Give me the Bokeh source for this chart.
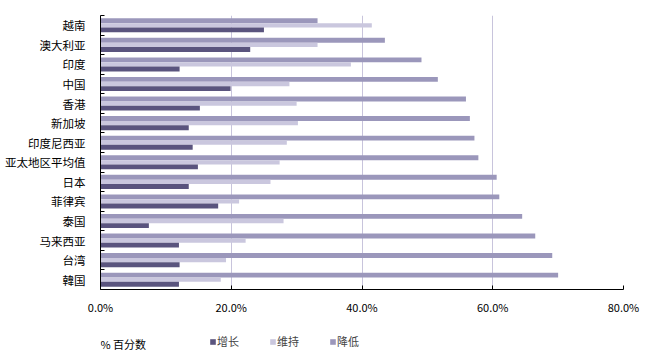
from bokeh.plotting import figure
from bokeh.layouts import column
from bokeh.models import (Range1d, FixedTicker, Legend, LegendItem, Label,
                          ColumnDataSource, CustomJSTickFormatter)
from bokeh.embed import file_html
from bokeh.resources import INLINE
import numpy as np

categories = ["越南", "澳大利亚", "印度", "中国", "香港", "新加坡", "印度尼西亚",
              "亚太地区平均值", "日本", "菲律宾", "泰国", "马来西亚", "台湾", "韓国"]
growth = [25.0, 22.9, 12.1, 19.9, 15.2, 13.5, 14.1, 14.9, 13.5, 18.0, 7.4, 12.0, 12.1, 12.0]
maintain = [41.5, 33.2, 38.3, 28.9, 30.0, 30.2, 28.5, 27.4, 26.0, 21.2, 28.0, 22.2, 19.2, 18.4]
decline = [33.2, 43.5, 49.1, 51.6, 55.9, 56.5, 57.2, 57.8, 60.6, 61.0, 64.5, 66.5, 69.1, 70.0]
series_names = ["增长", "维持", "降低"]
x_title = "% 百分数"
x_ticks = [0, 20, 40, 60, 80]

FONT = "Noto Sans CJK SC"
C_GROW = "#5a547e"
C_MAIN = "#cac7de"
C_DECL = "#9b97bb"

n = len(categories)
centers = np.array([n - 0.5 - i for i in range(n)])
bh = 0.235

xr = Range1d(0, 80)
p = figure(width=648, height=320, output_backend="svg", toolbar_location=None,
           x_range=xr, y_range=Range1d(0, n),
           min_border_left=100, min_border_right=25, min_border_top=15, min_border_bottom=31)
p.outline_line_color = None

src = ColumnDataSource(dict(cat=categories, g=growth, m=maintain, d=decline,
                            yd=centers + bh, ym=centers, yg=centers - bh))
p.hbar(y="yd", left=0, right="d", height=0.25, source=src, fill_color=C_DECL, line_color=None)
p.hbar(y="ym", left=0, right="m", height=0.22, source=src, fill_color=C_MAIN, line_color=None)
p.hbar(y="yg", left=0, right="g", height=0.25, source=src, fill_color=C_GROW, line_color=None)

# x axis
p.xaxis.ticker = FixedTicker(ticks=x_ticks)
p.xaxis.formatter = CustomJSTickFormatter(code="return tick.toFixed(1) + '%';")
p.xaxis.axis_line_color = "black"
p.xaxis.major_tick_line_color = "black"
p.xaxis.major_tick_in = 4
p.xaxis.major_tick_out = 0
p.xaxis.minor_tick_line_color = None
p.xaxis.major_label_text_font = FONT
p.xaxis.major_label_text_font_size = "11px"
p.xaxis.major_label_text_color = "black"
p.xaxis.major_label_standoff = 9

# y axis: labels at category centres, ticks at boundaries
label_map = {float(c): categories[i] for i, c in enumerate(centers)}
p.yaxis.ticker = FixedTicker(ticks=list(centers), minor_ticks=list(range(n + 1)))
p.yaxis.major_label_overrides = label_map
p.yaxis.major_tick_line_color = None
p.yaxis.minor_tick_line_color = "black"
p.yaxis.minor_tick_in = 4
p.yaxis.minor_tick_out = 0
p.yaxis.axis_line_color = "black"
p.yaxis.major_label_text_font = FONT
p.yaxis.major_label_text_font_size = "11.5px"
p.yaxis.major_label_text_color = "black"
p.yaxis.major_label_standoff = 9

p.xgrid.ticker = FixedTicker(ticks=x_ticks[1:])
p.xgrid.grid_line_color = "#c8c4dc"
p.ygrid.grid_line_color = None

# legend strip below the chart (frame aligned with the chart above)
q = figure(width=648, height=38, output_backend="svg", toolbar_location=None,
           x_range=xr, y_range=Range1d(0, 38),
           min_border=0, x_axis_type=None, y_axis_type=None)
q.outline_line_color = None
q.xgrid.grid_line_color = None
q.ygrid.grid_line_color = None
colors = [C_GROW, C_MAIN, C_DECL]
# legend proxies: one bar each, placed outside the visible y range
rs = [q.hbar(y=[-100], left=[0], right=[1], height=1, fill_color=c, line_color=None)
      for c in colors]
legend = Legend(items=[LegendItem(label=s, renderers=[r]) for s, r in zip(series_names, rs)],
                orientation="horizontal", location=(109, 9),
                glyph_width=7, glyph_height=7, label_standoff=1, label_width=52,
                spacing=0, padding=0, margin=0, border_line_color=None,
                background_fill_alpha=0,
                label_text_font=FONT, label_text_font_size="11px", label_height=12)
q.add_layout(legend, "center")
q.add_layout(Label(x=0, y=15, x_offset=0, text=x_title, text_baseline="middle",
                   text_font=FONT, text_font_size="11px", text_color="black"))

open("out.html", "w").write(file_html(column(p, q, spacing=0), INLINE))
